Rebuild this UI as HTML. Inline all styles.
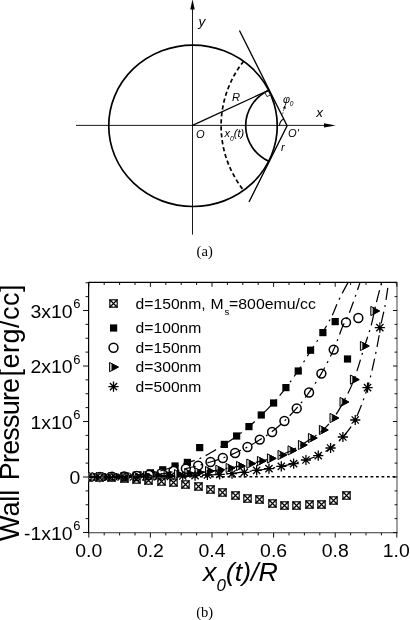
<!DOCTYPE html>
<html lang="en">
<head>
<meta charset="utf-8">
<title>Figure: wall pressure versus x0(t)/R</title>
<style>
html,body{margin:0;padding:0;background:#fff;}
body{width:410px;height:620px;overflow:hidden;}
svg{display:block;}
text{white-space:pre;}
</style>
</head>
<body>
<svg width="410" height="620" viewBox="0 0 410 620">
<rect width="410" height="620" fill="#fff"/>
<g id="plot">
<path d="M88.6,282.4 H397.2" stroke="#000" stroke-width="1.1" fill="none"/>
<path d="M88.6,281.9 V533.3" stroke="#000" stroke-width="1.2" fill="none"/>
<path d="M88.6,532.8 H397.2" stroke="#333" stroke-width="1.1" fill="none"/>
<path d="M397.0,282.4 V533.3" stroke="#707070" stroke-width="1.3" fill="none"/>
<path d="M88.80,532.8 v4.8 M88.80,282.4 v4.4 M104.20,532.8 v2.6 M104.20,282.4 v2.6 M119.60,532.8 v2.6 M119.60,282.4 v2.6 M135.00,532.8 v2.6 M135.00,282.4 v2.6 M150.40,532.8 v4.8 M150.40,282.4 v4.4 M165.80,532.8 v2.6 M165.80,282.4 v2.6 M181.20,532.8 v2.6 M181.20,282.4 v2.6 M196.60,532.8 v2.6 M196.60,282.4 v2.6 M212.00,532.8 v4.8 M212.00,282.4 v4.4 M227.40,532.8 v2.6 M227.40,282.4 v2.6 M242.80,532.8 v2.6 M242.80,282.4 v2.6 M258.20,532.8 v2.6 M258.20,282.4 v2.6 M273.60,532.8 v4.8 M273.60,282.4 v4.4 M289.00,532.8 v2.6 M289.00,282.4 v2.6 M304.40,532.8 v2.6 M304.40,282.4 v2.6 M319.80,532.8 v2.6 M319.80,282.4 v2.6 M335.20,532.8 v4.8 M335.20,282.4 v4.4 M350.60,532.8 v2.6 M350.60,282.4 v2.6 M366.00,532.8 v2.6 M366.00,282.4 v2.6 M381.40,532.8 v2.6 M381.40,282.4 v2.6 M396.80,532.8 v4.8 M396.80,282.4 v4.4 M88.6,532.50 h-5.6 M397.2,532.50 h-4.2 M88.6,518.62 h-3.0 M397.2,518.62 h-2.6 M88.6,504.75 h-3.0 M397.2,504.75 h-2.6 M88.6,490.88 h-3.0 M397.2,490.88 h-2.6 M88.6,477.00 h-5.6 M397.2,477.00 h-4.2 M88.6,463.12 h-3.0 M397.2,463.12 h-2.6 M88.6,449.25 h-3.0 M397.2,449.25 h-2.6 M88.6,435.38 h-3.0 M397.2,435.38 h-2.6 M88.6,421.50 h-5.6 M397.2,421.50 h-4.2 M88.6,407.62 h-3.0 M397.2,407.62 h-2.6 M88.6,393.75 h-3.0 M397.2,393.75 h-2.6 M88.6,379.88 h-3.0 M397.2,379.88 h-2.6 M88.6,366.00 h-5.6 M397.2,366.00 h-4.2 M88.6,352.12 h-3.0 M397.2,352.12 h-2.6 M88.6,338.25 h-3.0 M397.2,338.25 h-2.6 M88.6,324.38 h-3.0 M397.2,324.38 h-2.6 M88.6,310.50 h-5.6 M397.2,310.50 h-4.2 M88.6,296.62 h-3.0 M397.2,296.62 h-2.6 M88.6,282.75 h-3.0 M397.2,282.75 h-2.6 " stroke="#111" stroke-width="1" fill="none"/>
<path d="M90.0,476.7 H397.2" stroke="#000" stroke-width="1.4" stroke-dasharray="2.8 2.7" fill="none"/>
<text transform="translate(88.80,556.60) scale(1.05,1)" font-family='"Liberation Sans", Arial, Helvetica, sans-serif' font-size="18.5" text-anchor="middle" fill="#000" >0.0</text>
<text transform="translate(150.40,556.60) scale(1.05,1)" font-family='"Liberation Sans", Arial, Helvetica, sans-serif' font-size="18.5" text-anchor="middle" fill="#000" >0.2</text>
<text transform="translate(212.00,556.60) scale(1.05,1)" font-family='"Liberation Sans", Arial, Helvetica, sans-serif' font-size="18.5" text-anchor="middle" fill="#000" >0.4</text>
<text transform="translate(273.60,556.60) scale(1.05,1)" font-family='"Liberation Sans", Arial, Helvetica, sans-serif' font-size="18.5" text-anchor="middle" fill="#000" >0.6</text>
<text transform="translate(335.20,556.60) scale(1.05,1)" font-family='"Liberation Sans", Arial, Helvetica, sans-serif' font-size="18.5" text-anchor="middle" fill="#000" >0.8</text>
<text transform="translate(396.30,556.60) scale(1.05,1)" font-family='"Liberation Sans", Arial, Helvetica, sans-serif' font-size="18.5" text-anchor="middle" fill="#000" >1.0</text>
<text transform="translate(72.60,317.50) scale(1.05,1)" font-family='"Liberation Sans", Arial, Helvetica, sans-serif' font-size="18.5" text-anchor="end" fill="#000" >3x10</text>
<text transform="translate(73.20,308.10) scale(1.08,1)" font-family='"Liberation Sans", Arial, Helvetica, sans-serif' font-size="12" text-anchor="start" fill="#000" >6</text>
<text transform="translate(72.60,373.00) scale(1.05,1)" font-family='"Liberation Sans", Arial, Helvetica, sans-serif' font-size="18.5" text-anchor="end" fill="#000" >2x10</text>
<text transform="translate(73.20,363.60) scale(1.08,1)" font-family='"Liberation Sans", Arial, Helvetica, sans-serif' font-size="12" text-anchor="start" fill="#000" >6</text>
<text transform="translate(72.60,428.50) scale(1.05,1)" font-family='"Liberation Sans", Arial, Helvetica, sans-serif' font-size="18.5" text-anchor="end" fill="#000" >1x10</text>
<text transform="translate(73.20,419.10) scale(1.08,1)" font-family='"Liberation Sans", Arial, Helvetica, sans-serif' font-size="12" text-anchor="start" fill="#000" >6</text>
<text transform="translate(72.60,539.50) scale(1.05,1)" font-family='"Liberation Sans", Arial, Helvetica, sans-serif' font-size="18.5" text-anchor="end" fill="#000" >-1x10</text>
<text transform="translate(73.20,530.10) scale(1.08,1)" font-family='"Liberation Sans", Arial, Helvetica, sans-serif' font-size="12" text-anchor="start" fill="#000" >6</text>
<text transform="translate(80.40,484.00) scale(1.05,1)" font-family='"Liberation Sans", Arial, Helvetica, sans-serif' font-size="18.5" text-anchor="end" fill="#000" >0</text>
<text transform="translate(19.00,541.00) rotate(-90) scale(1.0,1)" font-family='"Liberation Sans", Arial, Helvetica, sans-serif' font-size="27" text-anchor="start" fill="#000" letter-spacing="-0.1">Wall</text>
<text transform="translate(19.00,480.20) rotate(-90) scale(1.0,1)" font-family='"Liberation Sans", Arial, Helvetica, sans-serif' font-size="27" text-anchor="start" fill="#000" letter-spacing="-0.82">Pressure</text>
<text transform="translate(19.00,376.60) rotate(-90) scale(1.0,1)" font-family='"Liberation Sans", Arial, Helvetica, sans-serif' font-size="27" text-anchor="start" fill="#000" letter-spacing="0.5">[erg/cc]</text>
<text transform="translate(203.0,580.6) scale(1.03,1)" font-family='"Liberation Sans", Arial, Helvetica, sans-serif' font-style="italic" font-size="26" fill="#000">x<tspan font-size="16.5" dy="10.4">0</tspan><tspan dy="-10.4">(t)/R</tspan></text>
<text transform="translate(196.20,616.80) scale(1.04,1)" font-family='"Liberation Serif", "Times New Roman", serif' font-size="14" text-anchor="start" fill="#000" >(b)</text>
<clipPath id="fr"><rect x="88.6" y="282.4" width="308.6" height="250.39999999999998"/></clipPath>
<g clip-path="url(#fr)">
<rect x="85.20" y="473.40" width="7.2" height="7.2" fill="#000"/>
<rect x="97.52" y="473.40" width="7.2" height="7.2" fill="#000"/>
<rect x="109.84" y="473.00" width="7.2" height="7.2" fill="#000"/>
<rect x="122.16" y="472.40" width="7.2" height="7.2" fill="#000"/>
<rect x="134.48" y="471.20" width="7.2" height="7.2" fill="#000"/>
<rect x="146.80" y="469.20" width="7.2" height="7.2" fill="#000"/>
<rect x="159.12" y="466.20" width="7.2" height="7.2" fill="#000"/>
<rect x="171.44" y="462.40" width="7.2" height="7.2" fill="#000"/>
<rect x="183.76" y="458.80" width="7.2" height="7.2" fill="#000"/>
<rect x="196.08" y="444.00" width="7.2" height="7.2" fill="#000"/>
<rect x="220.72" y="440.80" width="7.2" height="7.2" fill="#000"/>
<rect x="233.04" y="432.40" width="7.2" height="7.2" fill="#000"/>
<rect x="245.36" y="423.00" width="7.2" height="7.2" fill="#000"/>
<rect x="257.68" y="411.40" width="7.2" height="7.2" fill="#000"/>
<rect x="270.00" y="399.40" width="7.2" height="7.2" fill="#000"/>
<rect x="282.32" y="384.00" width="7.2" height="7.2" fill="#000"/>
<rect x="294.64" y="367.40" width="7.2" height="7.2" fill="#000"/>
<rect x="306.96" y="346.60" width="7.2" height="7.2" fill="#000"/>
<rect x="319.28" y="329.00" width="7.2" height="7.2" fill="#000"/>
<rect x="331.60" y="318.00" width="7.2" height="7.2" fill="#000"/>
<rect x="343.92" y="355.40" width="7.2" height="7.2" fill="#000"/>
<circle cx="87.30" cy="477.00" r="4.45" fill="#fff" stroke="#000" stroke-width="1.5"/>
<circle cx="99.62" cy="477.00" r="4.45" fill="#fff" stroke="#000" stroke-width="1.5"/>
<circle cx="111.94" cy="476.80" r="4.45" fill="#fff" stroke="#000" stroke-width="1.5"/>
<circle cx="124.26" cy="476.50" r="4.45" fill="#fff" stroke="#000" stroke-width="1.5"/>
<circle cx="136.58" cy="476.00" r="4.45" fill="#fff" stroke="#000" stroke-width="1.5"/>
<circle cx="148.90" cy="475.00" r="4.45" fill="#fff" stroke="#000" stroke-width="1.5"/>
<circle cx="161.22" cy="473.40" r="4.45" fill="#fff" stroke="#000" stroke-width="1.5"/>
<circle cx="173.54" cy="471.00" r="4.45" fill="#fff" stroke="#000" stroke-width="1.5"/>
<circle cx="185.86" cy="468.60" r="4.45" fill="#fff" stroke="#000" stroke-width="1.5"/>
<circle cx="198.18" cy="465.60" r="4.45" fill="#fff" stroke="#000" stroke-width="1.5"/>
<circle cx="210.50" cy="462.00" r="4.45" fill="#fff" stroke="#000" stroke-width="1.5"/>
<circle cx="222.82" cy="458.00" r="4.45" fill="#fff" stroke="#000" stroke-width="1.5"/>
<circle cx="235.14" cy="453.00" r="4.45" fill="#fff" stroke="#000" stroke-width="1.5"/>
<circle cx="247.46" cy="447.00" r="4.45" fill="#fff" stroke="#000" stroke-width="1.5"/>
<circle cx="259.78" cy="439.60" r="4.45" fill="#fff" stroke="#000" stroke-width="1.5"/>
<circle cx="272.10" cy="432.00" r="4.45" fill="#fff" stroke="#000" stroke-width="1.5"/>
<circle cx="284.42" cy="421.00" r="4.45" fill="#fff" stroke="#000" stroke-width="1.5"/>
<circle cx="296.74" cy="408.40" r="4.45" fill="#fff" stroke="#000" stroke-width="1.5"/>
<circle cx="309.06" cy="392.50" r="4.45" fill="#fff" stroke="#000" stroke-width="1.5"/>
<circle cx="321.38" cy="373.60" r="4.45" fill="#fff" stroke="#000" stroke-width="1.5"/>
<circle cx="333.70" cy="349.60" r="4.45" fill="#fff" stroke="#000" stroke-width="1.5"/>
<circle cx="346.02" cy="322.40" r="4.45" fill="#fff" stroke="#000" stroke-width="1.5"/>
<circle cx="358.34" cy="318.00" r="4.45" fill="#fff" stroke="#000" stroke-width="1.5"/>
<path d="M91.80,472.40 L100.60,477.00 L91.80,481.60 Z" fill="#ddd" stroke="#000" stroke-width="1"/>
<path d="M94.10,473.60 L100.60,477.00 L94.10,480.40 Z" fill="#000" stroke="#000" stroke-width="0.6"/>
<path d="M102.10,472.40 L110.90,477.00 L102.10,481.60 Z" fill="#ddd" stroke="#000" stroke-width="1"/>
<path d="M104.40,473.60 L110.90,477.00 L104.40,480.40 Z" fill="#000" stroke="#000" stroke-width="0.6"/>
<path d="M112.50,472.20 L121.30,476.80 L112.50,481.40 Z" fill="#ddd" stroke="#000" stroke-width="1"/>
<path d="M114.80,473.40 L121.30,476.80 L114.80,480.20 Z" fill="#000" stroke="#000" stroke-width="0.6"/>
<path d="M122.80,472.00 L131.60,476.60 L122.80,481.20 Z" fill="#ddd" stroke="#000" stroke-width="1"/>
<path d="M125.10,473.20 L131.60,476.60 L125.10,480.00 Z" fill="#000" stroke="#000" stroke-width="0.6"/>
<path d="M133.10,471.70 L141.90,476.30 L133.10,480.90 Z" fill="#ddd" stroke="#000" stroke-width="1"/>
<path d="M135.40,472.90 L141.90,476.30 L135.40,479.70 Z" fill="#000" stroke="#000" stroke-width="0.6"/>
<path d="M143.50,471.40 L152.30,476.00 L143.50,480.60 Z" fill="#ddd" stroke="#000" stroke-width="1"/>
<path d="M145.80,472.60 L152.30,476.00 L145.80,479.40 Z" fill="#000" stroke="#000" stroke-width="0.6"/>
<path d="M153.80,471.00 L162.60,475.60 L153.80,480.20 Z" fill="#ddd" stroke="#000" stroke-width="1"/>
<path d="M156.10,472.20 L162.60,475.60 L156.10,479.00 Z" fill="#000" stroke="#000" stroke-width="0.6"/>
<path d="M164.10,470.40 L172.90,475.00 L164.10,479.60 Z" fill="#ddd" stroke="#000" stroke-width="1"/>
<path d="M166.40,471.60 L172.90,475.00 L166.40,478.40 Z" fill="#000" stroke="#000" stroke-width="0.6"/>
<path d="M174.50,469.60 L183.30,474.20 L174.50,478.80 Z" fill="#ddd" stroke="#000" stroke-width="1"/>
<path d="M176.80,470.80 L183.30,474.20 L176.80,477.60 Z" fill="#000" stroke="#000" stroke-width="0.6"/>
<path d="M184.80,468.80 L193.60,473.40 L184.80,478.00 Z" fill="#ddd" stroke="#000" stroke-width="1"/>
<path d="M187.10,470.00 L193.60,473.40 L187.10,476.80 Z" fill="#000" stroke="#000" stroke-width="0.6"/>
<path d="M195.10,467.80 L203.90,472.40 L195.10,477.00 Z" fill="#ddd" stroke="#000" stroke-width="1"/>
<path d="M197.40,469.00 L203.90,472.40 L197.40,475.80 Z" fill="#000" stroke="#000" stroke-width="0.6"/>
<path d="M205.50,466.50 L214.30,471.10 L205.50,475.70 Z" fill="#ddd" stroke="#000" stroke-width="1"/>
<path d="M207.80,467.70 L214.30,471.10 L207.80,474.50 Z" fill="#000" stroke="#000" stroke-width="0.6"/>
<path d="M215.80,465.20 L224.60,469.80 L215.80,474.40 Z" fill="#ddd" stroke="#000" stroke-width="1"/>
<path d="M218.10,466.40 L224.60,469.80 L218.10,473.20 Z" fill="#000" stroke="#000" stroke-width="0.6"/>
<path d="M226.10,463.40 L234.90,468.00 L226.10,472.60 Z" fill="#ddd" stroke="#000" stroke-width="1"/>
<path d="M228.40,464.60 L234.90,468.00 L228.40,471.40 Z" fill="#000" stroke="#000" stroke-width="0.6"/>
<path d="M236.50,461.40 L245.30,466.00 L236.50,470.60 Z" fill="#ddd" stroke="#000" stroke-width="1"/>
<path d="M238.80,462.60 L245.30,466.00 L238.80,469.40 Z" fill="#000" stroke="#000" stroke-width="0.6"/>
<path d="M246.80,459.00 L255.60,463.60 L246.80,468.20 Z" fill="#ddd" stroke="#000" stroke-width="1"/>
<path d="M249.10,460.20 L255.60,463.60 L249.10,467.00 Z" fill="#000" stroke="#000" stroke-width="0.6"/>
<path d="M257.40,456.40 L266.20,461.00 L257.40,465.60 Z" fill="#ddd" stroke="#000" stroke-width="1"/>
<path d="M259.70,457.60 L266.20,461.00 L259.70,464.40 Z" fill="#000" stroke="#000" stroke-width="0.6"/>
<path d="M267.40,453.80 L276.20,458.40 L267.40,463.00 Z" fill="#ddd" stroke="#000" stroke-width="1"/>
<path d="M269.70,455.00 L276.20,458.40 L269.70,461.80 Z" fill="#000" stroke="#000" stroke-width="0.6"/>
<path d="M278.00,450.40 L286.80,455.00 L278.00,459.60 Z" fill="#ddd" stroke="#000" stroke-width="1"/>
<path d="M280.30,451.60 L286.80,455.00 L280.30,458.40 Z" fill="#000" stroke="#000" stroke-width="0.6"/>
<path d="M288.00,445.80 L296.80,450.40 L288.00,455.00 Z" fill="#ddd" stroke="#000" stroke-width="1"/>
<path d="M290.30,447.00 L296.80,450.40 L290.30,453.80 Z" fill="#000" stroke="#000" stroke-width="0.6"/>
<path d="M298.40,440.40 L307.20,445.00 L298.40,449.60 Z" fill="#ddd" stroke="#000" stroke-width="1"/>
<path d="M300.70,441.60 L307.20,445.00 L300.70,448.40 Z" fill="#000" stroke="#000" stroke-width="0.6"/>
<path d="M308.40,433.40 L317.20,438.00 L308.40,442.60 Z" fill="#ddd" stroke="#000" stroke-width="1"/>
<path d="M310.70,434.60 L317.20,438.00 L310.70,441.40 Z" fill="#000" stroke="#000" stroke-width="0.6"/>
<path d="M319.40,425.40 L328.20,430.00 L319.40,434.60 Z" fill="#ddd" stroke="#000" stroke-width="1"/>
<path d="M321.70,426.60 L328.20,430.00 L321.70,433.40 Z" fill="#000" stroke="#000" stroke-width="0.6"/>
<path d="M330.00,413.40 L338.80,418.00 L330.00,422.60 Z" fill="#ddd" stroke="#000" stroke-width="1"/>
<path d="M332.30,414.60 L338.80,418.00 L332.30,421.40 Z" fill="#000" stroke="#000" stroke-width="0.6"/>
<path d="M340.00,397.40 L348.80,402.00 L340.00,406.60 Z" fill="#ddd" stroke="#000" stroke-width="1"/>
<path d="M342.30,398.60 L348.80,402.00 L342.30,405.40 Z" fill="#000" stroke="#000" stroke-width="0.6"/>
<path d="M350.40,375.00 L359.20,379.60 L350.40,384.20 Z" fill="#ddd" stroke="#000" stroke-width="1"/>
<path d="M352.70,376.20 L359.20,379.60 L352.70,383.00 Z" fill="#000" stroke="#000" stroke-width="0.6"/>
<path d="M360.40,341.40 L369.20,346.00 L360.40,350.60 Z" fill="#ddd" stroke="#000" stroke-width="1"/>
<path d="M362.70,342.60 L369.20,346.00 L362.70,349.40 Z" fill="#000" stroke="#000" stroke-width="0.6"/>
<path d="M370.80,306.40 L379.60,311.00 L370.80,315.60 Z" fill="#ddd" stroke="#000" stroke-width="1"/>
<path d="M373.10,307.60 L379.60,311.00 L373.10,314.40 Z" fill="#000" stroke="#000" stroke-width="0.6"/>
<path d="M91.40,477.00 h10.2 M96.50,471.90 v10.2 M92.89,473.39 l7.21,7.21 M100.11,473.39 l-7.21,7.21" stroke="#000" stroke-width="1.3" fill="none"/>
<path d="M103.72,477.00 h10.2 M108.82,471.90 v10.2 M105.21,473.39 l7.21,7.21 M112.43,473.39 l-7.21,7.21" stroke="#000" stroke-width="1.3" fill="none"/>
<path d="M116.04,477.00 h10.2 M121.14,471.90 v10.2 M117.53,473.39 l7.21,7.21 M124.75,473.39 l-7.21,7.21" stroke="#000" stroke-width="1.3" fill="none"/>
<path d="M128.36,477.00 h10.2 M133.46,471.90 v10.2 M129.85,473.39 l7.21,7.21 M137.07,473.39 l-7.21,7.21" stroke="#000" stroke-width="1.3" fill="none"/>
<path d="M140.68,476.90 h10.2 M145.78,471.80 v10.2 M142.17,473.29 l7.21,7.21 M149.39,473.29 l-7.21,7.21" stroke="#000" stroke-width="1.3" fill="none"/>
<path d="M153.00,476.70 h10.2 M158.10,471.60 v10.2 M154.49,473.09 l7.21,7.21 M161.71,473.09 l-7.21,7.21" stroke="#000" stroke-width="1.3" fill="none"/>
<path d="M165.32,476.40 h10.2 M170.42,471.30 v10.2 M166.81,472.79 l7.21,7.21 M174.03,472.79 l-7.21,7.21" stroke="#000" stroke-width="1.3" fill="none"/>
<path d="M177.64,476.00 h10.2 M182.74,470.90 v10.2 M179.13,472.39 l7.21,7.21 M186.35,472.39 l-7.21,7.21" stroke="#000" stroke-width="1.3" fill="none"/>
<path d="M189.96,475.60 h10.2 M195.06,470.50 v10.2 M191.45,471.99 l7.21,7.21 M198.67,471.99 l-7.21,7.21" stroke="#000" stroke-width="1.3" fill="none"/>
<path d="M202.28,475.00 h10.2 M207.38,469.90 v10.2 M203.77,471.39 l7.21,7.21 M210.99,471.39 l-7.21,7.21" stroke="#000" stroke-width="1.3" fill="none"/>
<path d="M214.60,474.40 h10.2 M219.70,469.30 v10.2 M216.09,470.79 l7.21,7.21 M223.31,470.79 l-7.21,7.21" stroke="#000" stroke-width="1.3" fill="none"/>
<path d="M226.92,473.70 h10.2 M232.02,468.60 v10.2 M228.41,470.09 l7.21,7.21 M235.63,470.09 l-7.21,7.21" stroke="#000" stroke-width="1.3" fill="none"/>
<path d="M239.24,472.40 h10.2 M244.34,467.30 v10.2 M240.73,468.79 l7.21,7.21 M247.95,468.79 l-7.21,7.21" stroke="#000" stroke-width="1.3" fill="none"/>
<path d="M251.56,470.40 h10.2 M256.66,465.30 v10.2 M253.05,466.79 l7.21,7.21 M260.27,466.79 l-7.21,7.21" stroke="#000" stroke-width="1.3" fill="none"/>
<path d="M263.88,468.60 h10.2 M268.98,463.50 v10.2 M265.37,464.99 l7.21,7.21 M272.59,464.99 l-7.21,7.21" stroke="#000" stroke-width="1.3" fill="none"/>
<path d="M276.20,466.40 h10.2 M281.30,461.30 v10.2 M277.69,462.79 l7.21,7.21 M284.91,462.79 l-7.21,7.21" stroke="#000" stroke-width="1.3" fill="none"/>
<path d="M288.52,463.60 h10.2 M293.62,458.50 v10.2 M290.01,459.99 l7.21,7.21 M297.23,459.99 l-7.21,7.21" stroke="#000" stroke-width="1.3" fill="none"/>
<path d="M300.84,460.00 h10.2 M305.94,454.90 v10.2 M302.33,456.39 l7.21,7.21 M309.55,456.39 l-7.21,7.21" stroke="#000" stroke-width="1.3" fill="none"/>
<path d="M313.16,455.60 h10.2 M318.26,450.50 v10.2 M314.65,451.99 l7.21,7.21 M321.87,451.99 l-7.21,7.21" stroke="#000" stroke-width="1.3" fill="none"/>
<path d="M325.48,448.00 h10.2 M330.58,442.90 v10.2 M326.97,444.39 l7.21,7.21 M334.19,444.39 l-7.21,7.21" stroke="#000" stroke-width="1.3" fill="none"/>
<path d="M337.80,437.00 h10.2 M342.90,431.90 v10.2 M339.29,433.39 l7.21,7.21 M346.51,433.39 l-7.21,7.21" stroke="#000" stroke-width="1.3" fill="none"/>
<path d="M350.12,420.00 h10.2 M355.22,414.90 v10.2 M351.61,416.39 l7.21,7.21 M358.83,416.39 l-7.21,7.21" stroke="#000" stroke-width="1.3" fill="none"/>
<path d="M362.44,387.60 h10.2 M367.54,382.50 v10.2 M363.93,383.99 l7.21,7.21 M371.15,383.99 l-7.21,7.21" stroke="#000" stroke-width="1.3" fill="none"/>
<path d="M374.76,327.60 h10.2 M379.86,322.50 v10.2 M376.25,323.99 l7.21,7.21 M383.47,323.99 l-7.21,7.21" stroke="#000" stroke-width="1.3" fill="none"/>
<path d="M83.5,473.5 h8 v8 h-8 Z" stroke="#4a4a4a" stroke-width="1" fill="none"/>
<path d="M83.5,473.5 l8,8 M91.5,473.5 l-8,8" stroke="#000" stroke-width="1.15" fill="none"/>
<circle cx="87.5" cy="477.5" r="3.6" fill="none" stroke="#111" stroke-width="0.75"/>
<path d="M95.5,473.5 h8 v8 h-8 Z" stroke="#4a4a4a" stroke-width="1" fill="none"/>
<path d="M95.5,473.5 l8,8 M103.5,473.5 l-8,8" stroke="#000" stroke-width="1.15" fill="none"/>
<circle cx="99.5" cy="477.5" r="3.6" fill="none" stroke="#111" stroke-width="0.75"/>
<path d="M107.5,473.5 h8 v8 h-8 Z" stroke="#4a4a4a" stroke-width="1" fill="none"/>
<path d="M107.5,473.5 l8,8 M115.5,473.5 l-8,8" stroke="#000" stroke-width="1.15" fill="none"/>
<circle cx="111.5" cy="477.5" r="3.6" fill="none" stroke="#111" stroke-width="0.75"/>
<path d="M120.5,474.5 h8 v8 h-8 Z" stroke="#4a4a4a" stroke-width="1" fill="none"/>
<path d="M120.5,474.5 l8,8 M128.5,474.5 l-8,8" stroke="#000" stroke-width="1.15" fill="none"/>
<circle cx="124.5" cy="478.5" r="3.6" fill="none" stroke="#111" stroke-width="0.75"/>
<path d="M132.5,475.5 h8 v8 h-8 Z" stroke="#4a4a4a" stroke-width="1" fill="none"/>
<path d="M132.5,475.5 l8,8 M140.5,475.5 l-8,8" stroke="#000" stroke-width="1.15" fill="none"/>
<circle cx="136.5" cy="479.5" r="3.6" fill="none" stroke="#111" stroke-width="0.75"/>
<path d="M144.5,476.5 h8 v8 h-8 Z" stroke="#4a4a4a" stroke-width="1" fill="none"/>
<path d="M144.5,476.5 l8,8 M152.5,476.5 l-8,8" stroke="#000" stroke-width="1.15" fill="none"/>
<circle cx="148.5" cy="480.5" r="3.6" fill="none" stroke="#111" stroke-width="0.75"/>
<path d="M157.5,477.5 h8 v8 h-8 Z" stroke="#4a4a4a" stroke-width="1" fill="none"/>
<path d="M157.5,477.5 l8,8 M165.5,477.5 l-8,8" stroke="#000" stroke-width="1.15" fill="none"/>
<circle cx="161.5" cy="481.5" r="3.6" fill="none" stroke="#111" stroke-width="0.75"/>
<path d="M169.5,478.5 h8 v8 h-8 Z" stroke="#4a4a4a" stroke-width="1" fill="none"/>
<path d="M169.5,478.5 l8,8 M177.5,478.5 l-8,8" stroke="#000" stroke-width="1.15" fill="none"/>
<circle cx="173.5" cy="482.5" r="3.6" fill="none" stroke="#111" stroke-width="0.75"/>
<path d="M181.5,480.5 h8 v8 h-8 Z" stroke="#4a4a4a" stroke-width="1" fill="none"/>
<path d="M181.5,480.5 l8,8 M189.5,480.5 l-8,8" stroke="#000" stroke-width="1.15" fill="none"/>
<circle cx="185.5" cy="484.5" r="3.6" fill="none" stroke="#111" stroke-width="0.75"/>
<path d="M194.5,482.5 h8 v8 h-8 Z" stroke="#4a4a4a" stroke-width="1" fill="none"/>
<path d="M194.5,482.5 l8,8 M202.5,482.5 l-8,8" stroke="#000" stroke-width="1.15" fill="none"/>
<circle cx="198.5" cy="486.5" r="3.6" fill="none" stroke="#111" stroke-width="0.75"/>
<path d="M206.5,485.5 h8 v8 h-8 Z" stroke="#4a4a4a" stroke-width="1" fill="none"/>
<path d="M206.5,485.5 l8,8 M214.5,485.5 l-8,8" stroke="#000" stroke-width="1.15" fill="none"/>
<circle cx="210.5" cy="489.5" r="3.6" fill="none" stroke="#111" stroke-width="0.75"/>
<path d="M218.5,488.5 h8 v8 h-8 Z" stroke="#4a4a4a" stroke-width="1" fill="none"/>
<path d="M218.5,488.5 l8,8 M226.5,488.5 l-8,8" stroke="#000" stroke-width="1.15" fill="none"/>
<circle cx="222.5" cy="492.5" r="3.6" fill="none" stroke="#111" stroke-width="0.75"/>
<path d="M231.5,491.5 h8 v8 h-8 Z" stroke="#4a4a4a" stroke-width="1" fill="none"/>
<path d="M231.5,491.5 l8,8 M239.5,491.5 l-8,8" stroke="#000" stroke-width="1.15" fill="none"/>
<circle cx="235.5" cy="495.5" r="3.6" fill="none" stroke="#111" stroke-width="0.75"/>
<path d="M243.5,494.5 h8 v8 h-8 Z" stroke="#4a4a4a" stroke-width="1" fill="none"/>
<path d="M243.5,494.5 l8,8 M251.5,494.5 l-8,8" stroke="#000" stroke-width="1.15" fill="none"/>
<circle cx="247.5" cy="498.5" r="3.6" fill="none" stroke="#111" stroke-width="0.75"/>
<path d="M255.5,495.5 h8 v8 h-8 Z" stroke="#4a4a4a" stroke-width="1" fill="none"/>
<path d="M255.5,495.5 l8,8 M263.5,495.5 l-8,8" stroke="#000" stroke-width="1.15" fill="none"/>
<circle cx="259.5" cy="499.5" r="3.6" fill="none" stroke="#111" stroke-width="0.75"/>
<path d="M268.5,499.5 h8 v8 h-8 Z" stroke="#4a4a4a" stroke-width="1" fill="none"/>
<path d="M268.5,499.5 l8,8 M276.5,499.5 l-8,8" stroke="#000" stroke-width="1.15" fill="none"/>
<circle cx="272.5" cy="503.5" r="3.6" fill="none" stroke="#111" stroke-width="0.75"/>
<path d="M280.5,501.5 h8 v8 h-8 Z" stroke="#4a4a4a" stroke-width="1" fill="none"/>
<path d="M280.5,501.5 l8,8 M288.5,501.5 l-8,8" stroke="#000" stroke-width="1.15" fill="none"/>
<circle cx="284.5" cy="505.5" r="3.6" fill="none" stroke="#111" stroke-width="0.75"/>
<path d="M292.5,501.5 h8 v8 h-8 Z" stroke="#4a4a4a" stroke-width="1" fill="none"/>
<path d="M292.5,501.5 l8,8 M300.5,501.5 l-8,8" stroke="#000" stroke-width="1.15" fill="none"/>
<circle cx="296.5" cy="505.5" r="3.6" fill="none" stroke="#111" stroke-width="0.75"/>
<path d="M305.5,500.5 h8 v8 h-8 Z" stroke="#4a4a4a" stroke-width="1" fill="none"/>
<path d="M305.5,500.5 l8,8 M313.5,500.5 l-8,8" stroke="#000" stroke-width="1.15" fill="none"/>
<circle cx="309.5" cy="504.5" r="3.6" fill="none" stroke="#111" stroke-width="0.75"/>
<path d="M317.5,500.5 h8 v8 h-8 Z" stroke="#4a4a4a" stroke-width="1" fill="none"/>
<path d="M317.5,500.5 l8,8 M325.5,500.5 l-8,8" stroke="#000" stroke-width="1.15" fill="none"/>
<circle cx="321.5" cy="504.5" r="3.6" fill="none" stroke="#111" stroke-width="0.75"/>
<path d="M329.5,496.5 h8 v8 h-8 Z" stroke="#4a4a4a" stroke-width="1" fill="none"/>
<path d="M329.5,496.5 l8,8 M337.5,496.5 l-8,8" stroke="#000" stroke-width="1.15" fill="none"/>
<circle cx="333.5" cy="500.5" r="3.6" fill="none" stroke="#111" stroke-width="0.75"/>
<path d="M342.5,491.5 h8 v8 h-8 Z" stroke="#4a4a4a" stroke-width="1" fill="none"/>
<path d="M342.5,491.5 l8,8 M350.5,491.5 l-8,8" stroke="#000" stroke-width="1.15" fill="none"/>
<circle cx="346.5" cy="495.5" r="3.6" fill="none" stroke="#111" stroke-width="0.75"/>
<g fill="none" stroke="#000" stroke-width="1.25" stroke-dasharray="12 5 2 5">
<path d="M88.80,477.00 C94.00,476.93 109.80,477.18 120.00,476.60 C130.20,476.02 140.83,475.18 150.00,473.50 C159.17,471.82 168.77,468.32 175.00,466.50 C181.23,464.68 183.23,463.93 187.40,462.60 C191.57,461.27 195.90,460.27 200.00,458.50 C204.10,456.73 207.95,454.32 212.00,452.00 C216.05,449.68 220.20,447.23 224.30,444.60 C228.40,441.97 232.48,439.20 236.60,436.20 C240.72,433.20 244.88,430.10 249.00,426.60 C253.12,423.10 257.20,419.20 261.30,415.20 C265.40,411.20 269.50,407.17 273.60,402.60 C277.70,398.03 281.80,393.13 285.90,387.80 C290.00,382.47 294.08,376.73 298.20,370.60 C302.32,364.47 306.48,357.43 310.60,351.00 C314.72,344.57 319.27,338.00 322.90,332.00 C326.53,326.00 330.05,319.67 332.40,315.00 C334.75,310.33 335.33,307.67 337.00,304.00 C338.67,300.33 340.57,296.57 342.40,293.00 C344.23,289.43 347.07,284.33 348.00,282.60"/>
<path d="M88.80,477.00 C95.67,476.93 118.13,477.07 130.00,476.60 C141.87,476.13 150.68,475.53 160.00,474.20 C169.32,472.87 179.53,470.03 185.90,468.60 C192.27,467.17 194.10,466.70 198.20,465.60 C202.30,464.50 206.40,463.27 210.50,462.00 C214.60,460.73 218.70,459.50 222.80,458.00 C226.90,456.50 230.98,454.83 235.10,453.00 C239.22,451.17 243.38,449.20 247.50,447.00 C251.62,444.80 255.70,442.37 259.80,439.80 C263.90,437.23 268.00,434.73 272.10,431.60 C276.20,428.47 280.30,424.90 284.40,421.00 C288.50,417.10 292.58,412.97 296.70,408.20 C300.82,403.43 304.98,398.20 309.10,392.40 C313.22,386.60 317.30,380.53 321.40,373.40 C325.50,366.27 330.27,357.17 333.70,349.60 C337.13,342.03 339.62,333.60 342.00,328.00 C344.38,322.40 346.17,320.17 348.00,316.00 C349.83,311.83 351.00,308.57 353.00,303.00 C355.00,297.43 358.83,286.00 360.00,282.60"/>
<path d="M88.80,477.00 C99.00,476.87 131.47,476.97 150.00,476.20 C168.53,475.43 186.72,473.77 200.00,472.40 C213.28,471.03 221.30,469.47 229.70,468.00 C238.10,466.53 243.52,465.20 250.40,463.60 C257.28,462.00 264.13,460.60 271.00,458.40 C277.87,456.20 284.77,453.77 291.60,450.40 C298.43,447.03 306.77,441.60 312.00,438.20 C317.23,434.80 319.40,433.37 323.00,430.00 C326.60,426.63 330.17,422.73 333.60,418.00 C337.03,413.27 340.20,408.00 343.60,401.60 C347.00,395.20 350.60,388.53 354.00,379.60 C357.40,370.67 361.17,356.93 364.00,348.00 C366.83,339.07 369.00,333.33 371.00,326.00 C373.00,318.67 374.23,311.23 376.00,304.00 C377.77,296.77 380.67,286.17 381.60,282.60"/>
<path d="M88.80,477.00 C102.33,476.93 148.13,477.03 170.00,476.60 C191.87,476.17 205.55,475.43 220.00,474.40 C234.45,473.37 246.48,471.73 256.70,470.40 C266.92,469.07 273.10,468.13 281.30,466.40 C289.50,464.67 299.73,461.83 305.90,460.00 C312.07,458.17 314.18,457.40 318.30,455.40 C322.42,453.40 326.50,451.07 330.60,448.00 C334.70,444.93 338.80,441.73 342.90,437.00 C347.00,432.27 351.10,427.83 355.20,419.60 C359.30,411.37 364.03,398.87 367.50,387.60 C370.97,376.33 373.67,362.93 376.00,352.00 C378.33,341.07 380.00,329.67 381.50,322.00 C383.00,314.33 383.82,312.57 385.00,306.00 C386.18,299.43 388.00,286.50 388.60,282.60"/>
</g>
</g>
<path d="M109.5,299.5 h8 v8 h-8 Z" stroke="#4a4a4a" stroke-width="1" fill="none"/>
<path d="M109.5,299.5 l8,8 M117.5,299.5 l-8,8" stroke="#000" stroke-width="1.15" fill="none"/>
<circle cx="113.5" cy="303.5" r="3.6" fill="none" stroke="#111" stroke-width="0.75"/>
<rect x="110.00" y="324.40" width="7.2" height="7.2" fill="#000"/>
<circle cx="113.50" cy="347.70" r="4.45" fill="#fff" stroke="#000" stroke-width="1.5"/>
<path d="M109.60,362.50 L118.40,367.10 L109.60,371.70 Z" fill="#ddd" stroke="#000" stroke-width="1"/>
<path d="M111.90,363.70 L118.40,367.10 L111.90,370.50 Z" fill="#000" stroke="#000" stroke-width="0.6"/>
<path d="M108.40,386.60 h10.2 M113.50,381.50 v10.2 M109.89,382.99 l7.21,7.21 M117.11,382.99 l-7.21,7.21" stroke="#000" stroke-width="1.3" fill="none"/>
<text transform="translate(135.60,309.20) scale(1.046,1)" font-family='"Liberation Sans", Arial, Helvetica, sans-serif' font-size="15" text-anchor="start" fill="#000" >d=150nm,</text>
<text transform="translate(210.60,309.20) scale(1.05,1)" font-family='"Liberation Sans", Arial, Helvetica, sans-serif' font-size="15" text-anchor="start" fill="#000" >M</text>
<text transform="translate(224.60,314.60) scale(1.05,1)" font-family='"Liberation Sans", Arial, Helvetica, sans-serif' font-size="9.2" text-anchor="start" fill="#000" >s</text>
<text transform="translate(229.00,309.20) scale(1.058,1)" font-family='"Liberation Sans", Arial, Helvetica, sans-serif' font-size="15" text-anchor="start" fill="#000" >=800emu/cc</text>
<text transform="translate(135.60,333.00) scale(1.046,1)" font-family='"Liberation Sans", Arial, Helvetica, sans-serif' font-size="15" text-anchor="start" fill="#000" >d=100nm</text>
<text transform="translate(135.60,352.60) scale(1.046,1)" font-family='"Liberation Sans", Arial, Helvetica, sans-serif' font-size="15" text-anchor="start" fill="#000" >d=150nm</text>
<text transform="translate(135.60,372.00) scale(1.046,1)" font-family='"Liberation Sans", Arial, Helvetica, sans-serif' font-size="15" text-anchor="start" fill="#000" >d=300nm</text>
<text transform="translate(135.60,391.60) scale(1.046,1)" font-family='"Liberation Sans", Arial, Helvetica, sans-serif' font-size="15" text-anchor="start" fill="#000" >d=500nm</text>
</g>
<g id="diagram" fill="none" stroke="#000">
<path d="M76,125.4 H330" stroke-width="0.9"/>
<path d="M192.5,234.6 V6" stroke-width="0.9"/>
<path d="M335.8,125.4 L324.0,123.2 L324.0,127.60000000000001 Z" fill="#000" stroke="none"/>
<path d="M192.5,-0.8 L190.3,9.6 L194.7,9.6 Z" fill="#000" stroke="none"/>
<ellipse cx="193.0" cy="125.8" rx="84.27" ry="80.7" stroke-width="1.7"/>
<path d="M269.20,90.00 A41.46,39.7 0 0 0 269.20,161.60" stroke-width="1.7"/>
<path d="M239.45,30.50 L287.10,125.8 L249.00,202.00" stroke-width="1.35" stroke-linejoin="miter"/>
<path d="M192.5,125.4 L269.20,90.00" stroke-width="1.3"/>
<path d="M243.58,61.25 A112.30,107.54 0 0 0 243.58,190.35" stroke-width="1.7" stroke-dasharray="4.2 2.8"/>
<path d="M264.67,92.13 l2.24,4.47 l4.53,-2.13" stroke-width="1" stroke="#333"/>
<path d="M279.50,125.8 A7.6,7.6 0 0 1 283.70,119.00" stroke-width="1.15"/>
<path d="M282.6,114.5 Q283.2,110.5 284.4,108" stroke-width="0.8" stroke-dasharray="2 1.2" stroke="#333"/>
<path d="M285.4,104.6 L282.9,108.2 L285.6,109 Z" fill="#000" stroke="none"/>
</g>
<text transform="translate(198.50,26.40) scale(1.05,1)" font-family='"Liberation Sans", Arial, Helvetica, sans-serif' font-size="13" text-anchor="start" font-style="italic" fill="#000" >y</text>
<text transform="translate(316.20,116.80) scale(1.05,1)" font-family='"Liberation Sans", Arial, Helvetica, sans-serif' font-size="12.8" text-anchor="start" font-style="italic" fill="#000" >x</text>
<text transform="translate(232.00,100.60) scale(1.05,1)" font-family='"Liberation Sans", Arial, Helvetica, sans-serif' font-size="10.6" text-anchor="start" font-style="italic" fill="#000" >R</text>
<text transform="translate(196.00,137.60) scale(1.05,1)" font-family='"Liberation Sans", Arial, Helvetica, sans-serif' font-size="10.6" text-anchor="start" font-style="italic" fill="#000" >O</text>
<text transform="translate(288.00,137.00) scale(1.05,1)" font-family='"Liberation Sans", Arial, Helvetica, sans-serif' font-size="10.6" text-anchor="start" font-style="italic" fill="#000" >O'</text>
<text transform="translate(281.00,150.80) scale(1.05,1)" font-family='"Liberation Sans", Arial, Helvetica, sans-serif' font-size="10.6" text-anchor="start" font-style="italic" fill="#000" >r</text>
<text transform="translate(224.4,137.0) scale(1.04,1)" font-family='"Liberation Sans", Arial, Helvetica, sans-serif' font-style="italic" font-size="10.6" fill="#000">x<tspan font-size="6.6" dy="3.6">0</tspan><tspan dy="-3.6">(t)</tspan></text>
<text transform="translate(283.0,103.2) scale(1.03,1)" font-family='"Liberation Sans", "DejaVu Sans", sans-serif' font-style="italic" font-size="10.5" fill="#000">φ<tspan font-size="6.4" dy="2.8" dx="-0.3">0</tspan></text>
<text transform="translate(196.60,255.80) scale(1.04,1)" font-family='"Liberation Serif", "Times New Roman", serif' font-size="14" text-anchor="start" fill="#000" >(a)</text>
</svg>
</body>
</html>
